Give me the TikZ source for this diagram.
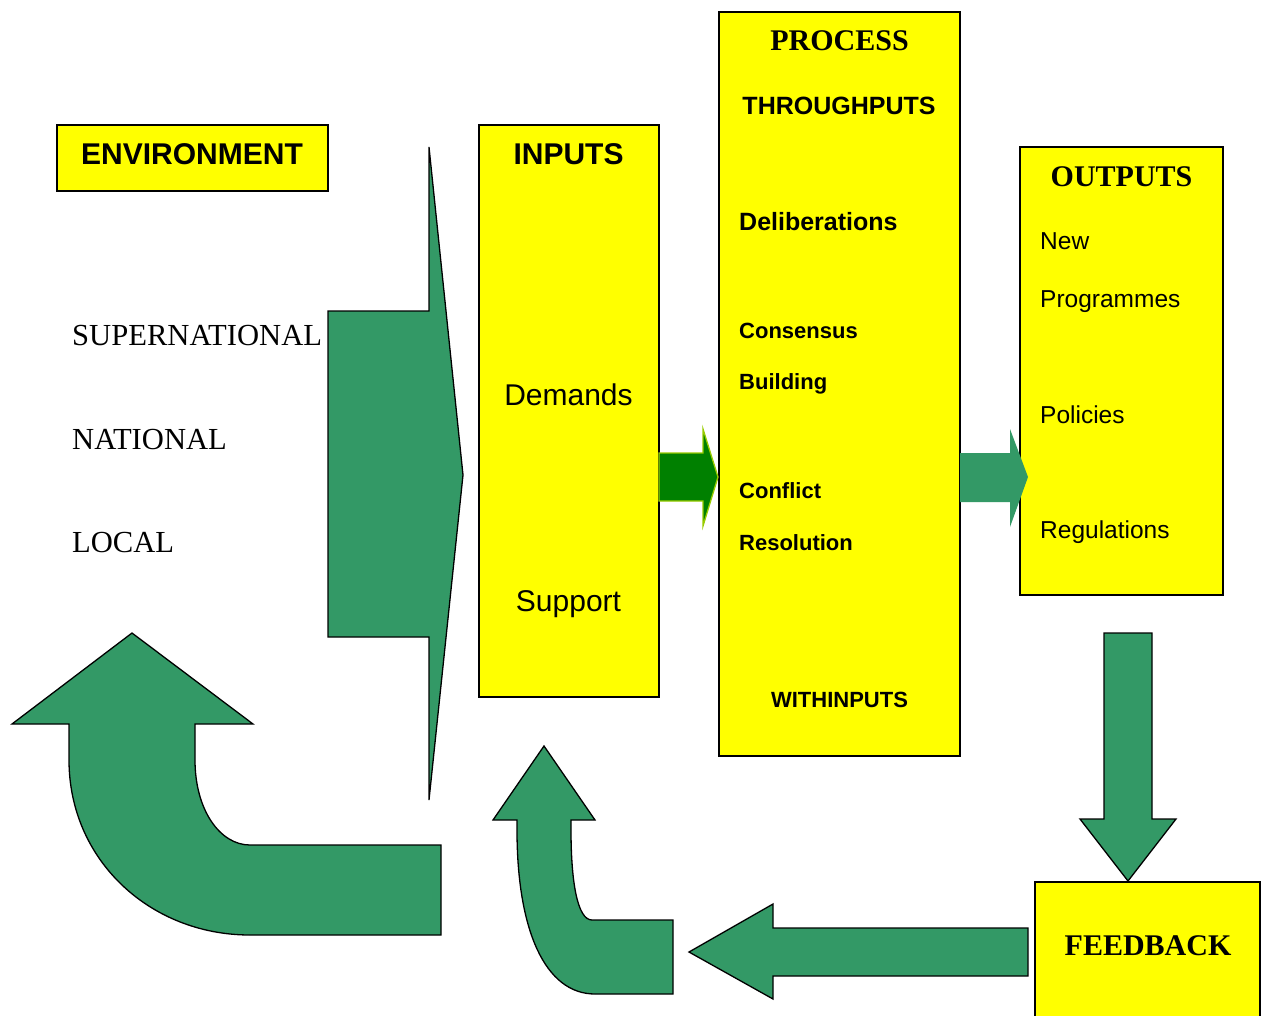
\documentclass[tikz,border=0pt]{standalone}
\usepackage{fontspec}
\setmainfont{Liberation Serif}
\newfontfamily\arialf{Liberation Sans}
\definecolor{fgreen}{RGB}{51,153,102}
\definecolor{dgreen}{RGB}{0,128,0}
\definecolor{lgreen}{RGB}{153,204,0}
\definecolor{byellow}{RGB}{255,255,0}
\begin{document}
\begin{tikzpicture}[x=1pt,y=-1pt,
  box/.style={draw=black,line width=1.6pt,fill=byellow,inner sep=0pt,outer sep=0pt,anchor=north west},
  garrow/.style={draw=black,line width=1.3pt,fill=fgreen,line join=miter},
  sansb/.style={font=\arialf\bfseries\fontsize{#1}{#1}\selectfont,inner sep=0pt},
  sansr/.style={font=\arialf\fontsize{#1}{#1}\selectfont,inner sep=0pt},
  serifb/.style={font=\bfseries\fontsize{#1}{#1}\selectfont,inner sep=0pt},
  serifr/.style={font=\fontsize{#1}{#1}\selectfont,inner sep=0pt}]
\clip (0,0) rectangle (1261,1015);
\fill[white] (0,0) rectangle (1261,1015);

% boxes
\node[box,minimum width=271,minimum height=66] (env) at (57,125) {};
\node[box,minimum width=180,minimum height=572] (inputs) at (479,125) {};
\node[box,minimum width=241,minimum height=744] (process) at (719,12) {};
\node[box,minimum width=203,minimum height=448] (outputs) at (1020,147) {};
\node[box,minimum width=225,minimum height=160] (feedback) at (1035,882) {};

% big environment arrow
\draw[garrow] (328,311) -- (429,311) -- (429,147) -- (463,475) -- (429,800) -- (429,637) -- (328,637) -- cycle;

% inputs -> process arrow
\draw[draw=lgreen,line width=1.3pt,fill=dgreen,line join=miter] (659,453) -- (703,453) -- (703,429) -- (718,477) -- (703,526) -- (703,501) -- (659,501) -- cycle;

% process -> outputs arrow
\fill[fgreen] (960,453) -- (1010,453) -- (1010,429) -- (1028,477) -- (1010,527) -- (1010,502) -- (960,502) -- cycle;

% outputs -> feedback arrow
\draw[garrow] (1104,633) -- (1152,633) -- (1152,819) -- (1176,819) -- (1128,881) -- (1080,819) -- (1104,819) -- cycle;

% feedback -> left arrow
\draw[garrow] (1028,928) -- (773,928) -- (773,904) -- (689,952) -- (773,999) -- (773,976) -- (1028,976) -- cycle;

% curved arrow near inputs
\draw[garrow] (673,920) -- (592,920) .. controls (577,920) and (571,880) .. (571,830) -- (571,820) -- (595,820) -- (544,746) -- (493,820) -- (517,820) -- (517,830) .. controls (517,930) and (545,994) .. (595,994) -- (673,994) -- cycle;

% big curved arrow at left
\draw[garrow] (441,845) -- (250,845) .. controls (220,845) and (195,810) .. (195,760) -- (195,724) -- (253,724) -- (132,633) -- (12,724) -- (69,724) -- (69,760) .. controls (69,860) and (150,935) .. (250,935) -- (441,935) -- cycle;

% texts
\node[sansb=30,anchor=base] (tenv) at (192,164) {ENVIRONMENT};
\node[serifr=30.6,anchor=base west] (tsup) at (72,345) {SUPERNATIONAL};
\node[serifr=30.6,anchor=base west] (tnat) at (72,449) {NATIONAL};
\node[serifr=30.6,anchor=base west] (tloc) at (72,552) {LOCAL};

\node[sansb=30,anchor=base] (tin) at (568.5,164) {INPUTS};
\node[sansr=30,anchor=base] (tdem) at (568.5,405) {Demands};
\node[sansr=30,anchor=base] (tsupp) at (568.5,611) {Support};

\node[serifb=30,anchor=base] (tproc) at (839.5,50) {PROCESS};
\node[sansb=25,anchor=base] (tthr) at (839,114) {THROUGHPUTS};
\node[sansb=25,anchor=base west] (tdel) at (739,230) {Deliberations};
\node[sansb=22,anchor=base west] (tcon) at (739,338) {Consensus};
\node[sansb=22,anchor=base west] (tbui) at (739,389) {Building};
\node[sansb=22,anchor=base west] (tconf) at (739,498) {Conflict};
\node[sansb=22,anchor=base west] (tres) at (739,550) {Resolution};
\node[sansb=22,anchor=base] (twith) at (839.5,707) {WITHINPUTS};

\node[serifb=30,anchor=base] (tout) at (1121.5,186) {OUTPUTS};
\node[sansr=24.5,anchor=base west] (tnew) at (1040,249) {New};
\node[sansr=24.5,anchor=base west] (tprog) at (1040,307) {Programmes};
\node[sansr=24.5,anchor=base west] (tpol) at (1040,423) {Policies};
\node[sansr=24.5,anchor=base west] (treg) at (1040,538) {Regulations};

\node[serifb=30,anchor=base] (tfb) at (1148,955) {FEEDBACK};
\end{tikzpicture}
\end{document}
